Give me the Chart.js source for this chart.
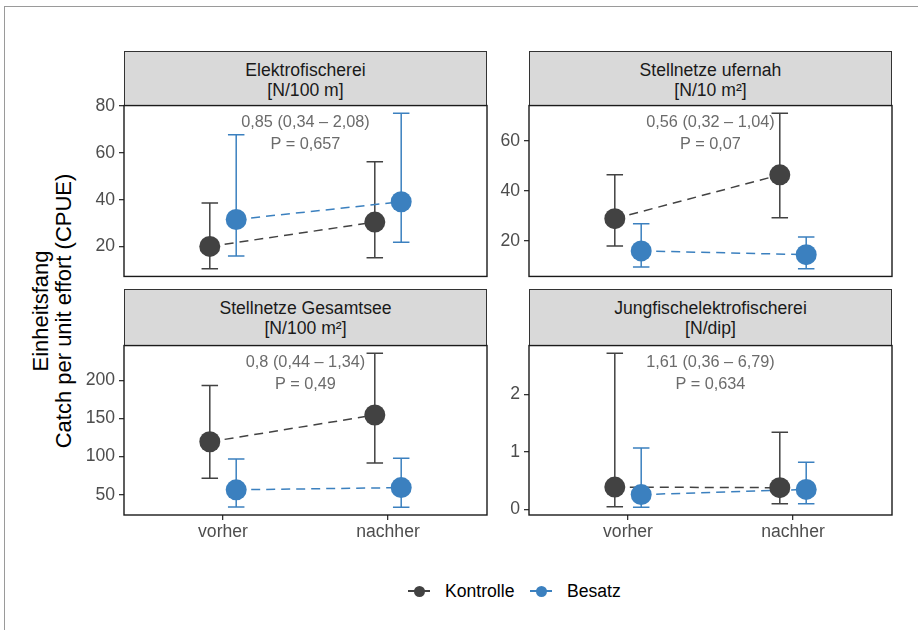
<!DOCTYPE html>
<html>
<head>
<meta charset="utf-8">
<script src="https://cdn.jsdelivr.net/npm/chart.js@4/dist/chart.umd.min.js"></script>
<style>
  body { margin: 0; background: #fff; font-family: "Liberation Sans", Arial, sans-serif; }
  #page { position: relative; width: 918px; height: 630px; overflow: hidden; background: #fff; }
  #frame { position: absolute; left: 4px; top: 6px; width: 940px; height: 660px;
           border-top: 1.5px solid #9a9a9a; border-left: 1.5px solid #9a9a9a; }
  .strip { position: absolute; box-sizing: border-box; background: #d9d9d9; border: 1px solid #333;
           text-align: center; font-size: 17.6px; line-height: 20px; color: #1a1a1a; padding-top: 8px; }
  .note { position: absolute; text-align: center; font-size: 16.3px; line-height: 21.5px; color: #6b6b6b; }
  canvas { position: absolute; }
  #ytitle { position: absolute; width: 420px; left: -158.5px; top: 288px; text-align: center;
            font-size: 22px; line-height: 23px; color: #000; transform: rotate(-90deg); }
  #legend { position: absolute; top: 580px; left: 0; width: 918px; height: 22px; }
  .key { position: absolute; top: 0; height: 22px; }
  .key .ln { position: absolute; left: 0; top: 10px; width: 22px; height: 1.6px; }
  .key .dot { position: absolute; left: 5.5px; top: 5.5px; width: 11px; height: 11px; border-radius: 50%; }
  .key .lab { position: absolute; left: 37px; top: 0; font-size: 17.6px; line-height: 22px; color: #000; white-space: nowrap; }
</style>
</head>
<body>
<div id="page">
  <div id="frame"></div>
  <div id="ytitle">Einheitsfang<br>Catch per unit effort (CPUE)</div>
  <div id="legend"></div>
</div>
<script>
const groups = ["Kontrolle", "Besatz"];
const periods = ["vorher", "nachher"];
const colors = ["#424242", "#3b80bf"];

const panelNames = ["Elektrofischerei", "Stellnetze ufernah", "Stellnetze Gesamtsee", "Jungfischelektrofischerei"];
const panelUnits = ["[N/100 m]", "[N/10 m²]", "[N/100 m²]", "[N/dip]"];
const effectText = ["0,85 (0,34 – 2,08)", "0,56 (0,32 – 1,04)", "0,8 (0,44 – 1,34)", "1,61 (0,36 – 6,79)"];
const pText = ["P = 0,657", "P = 0,07", "P = 0,49", "P = 0,634"];

// per panel: [vorher, nachher]
const kontrolleMean = [[20.0, 30.4], [28.9, 46.4], [119.4, 154.4], [0.39, 0.38]];
const kontrolleLow  = [[10.5, 15.2], [18.0, 29.3], [71.6, 91.5], [0.05, 0.10]];
const kontrolleHigh = [[38.6, 56.2], [46.4, 71.0], [193.0, 235.3], [2.71, 1.34]];
const besatzMean = [[31.5, 39.1], [16.0, 14.5], [56.5, 59.4], [0.26, 0.35]];
const besatzLow  = [[15.9, 21.8], [9.6, 8.9], [34.1, 33.6], [0.04, 0.10]];
const besatzHigh = [[67.7, 76.9], [26.9, 21.6], [97.0, 97.8], [1.07, 0.82]];

const yTicks = [[20, 40, 60, 80], [20, 40, 60], [50, 100, 150, 200], [0, 1, 2]];

const dodge = 0.08;
const capWidth = 0.1;

// panel boxes in page pixels
const panels = [
  { left: 124, top: 105, w: 363, h: 172, stripTop: 51, bottom: false },
  { left: 529, top: 105, w: 363, h: 172, stripTop: 51, bottom: false },
  { left: 124, top: 345, w: 363, h: 170, stripTop: 289, bottom: true },
  { left: 529, top: 345, w: 363, h: 170, stripTop: 289, bottom: true }
];

const FONT = '"Liberation Sans", Arial, sans-serif';
const YW = 45, PAD = 14, XH = 32;

const errorBars = {
  id: 'errorBars',
  beforeDatasetsDraw(chart) {
    const { ctx, scales: { x, y } } = chart;
    ctx.save();
    chart.data.datasets.forEach(ds => {
      if (!ds.errLow) return;
      ctx.strokeStyle = ds.errColor;
      ctx.lineWidth = 1.5;
      ds.data.forEach((pt, i) => {
        const px = x.getPixelForValue(pt.x);
        const x0 = x.getPixelForValue(pt.x - capWidth / 2);
        const x1 = x.getPixelForValue(pt.x + capWidth / 2);
        const lo = y.getPixelForValue(ds.errLow[i]);
        const hi = y.getPixelForValue(ds.errHigh[i]);
        ctx.beginPath();
        ctx.moveTo(px, lo); ctx.lineTo(px, hi);
        ctx.moveTo(x0, lo); ctx.lineTo(x1, lo);
        ctx.moveTo(x0, hi); ctx.lineTo(x1, hi);
        ctx.stroke();
      });
    });
    ctx.restore();
  }
};

const panelBorder = {
  id: 'panelBorder',
  afterDraw(chart) {
    const { ctx, chartArea: a } = chart;
    ctx.save();
    ctx.strokeStyle = '#1a1a1a';
    ctx.lineWidth = 1.4;
    ctx.strokeRect(a.left, a.top, a.right - a.left, a.bottom - a.top);
    ctx.restore();
  }
};

const page = document.getElementById('page');

panels.forEach((p, k) => {
  const strip = document.createElement('div');
  strip.className = 'strip';
  Object.assign(strip.style, { left: p.left + 'px', top: p.stripTop + 'px', width: p.w + 'px', height: (p.top - p.stripTop + 1) + 'px' });
  strip.innerHTML = panelNames[k] + '<br>' + panelUnits[k];
  page.appendChild(strip);

  const canvas = document.createElement('canvas');
  const cw = YW + p.w + PAD, ch = PAD + p.h + (p.bottom ? XH : PAD);
  canvas.width = cw; canvas.height = ch;
  Object.assign(canvas.style, { left: (p.left - YW) + 'px', top: (p.top - PAD) + 'px', width: cw + 'px', height: ch + 'px' });
  page.appendChild(canvas);

  const means = [kontrolleMean[k], besatzMean[k]];
  const lows = [kontrolleLow[k], besatzLow[k]];
  const highs = [kontrolleHigh[k], besatzHigh[k]];
  const lo = Math.min(...lows[0], ...lows[1]);
  const hi = Math.max(...highs[0], ...highs[1]);
  const span = hi - lo;

  const datasets = [];
  groups.forEach((g, gi) => {
    const pts = periods.map((per, i) => ({ x: i + 1 + (gi === 0 ? -dodge : dodge), y: means[gi][i] }));
    datasets.push({
      label: g + ' line', data: pts, showLine: true, order: 2,
      borderColor: colors[gi], borderWidth: 1.5, borderDash: [9, 6],
      pointRadius: 0, clip: false
    });
    datasets.push({
      label: g, data: pts, showLine: false, order: 1,
      backgroundColor: colors[gi], borderWidth: 0, pointRadius: 10.5,
      errLow: lows[gi], errHigh: highs[gi], errColor: colors[gi], clip: false
    });
  });

  new Chart(canvas, {
    type: 'scatter',
    data: { datasets: datasets },
    options: {
      responsive: false,
      animation: false,
      events: [],
      layout: { padding: { top: PAD, right: PAD, bottom: p.bottom ? 0 : PAD, left: 0 } },
      plugins: { legend: { display: false }, tooltip: { enabled: false } },
      scales: {
        x: {
          type: 'linear', min: 0.4, max: 2.6,
          display: p.bottom,
          afterBuildTicks: s => { s.ticks = periods.map((per, i) => ({ value: i + 1 })); },
          afterFit: s => { s.height = p.bottom ? XH : 0; },
          ticks: { callback: v => periods[v - 1], color: '#4d4d4d', font: { family: FONT, size: 17.6 }, padding: 2, maxRotation: 0 },
          grid: { display: true, drawOnChartArea: false, drawTicks: true, tickLength: 5, color: '#333', lineWidth: 1.3 },
          border: { display: false }
        },
        y: {
          min: lo - span * 0.05, max: hi + span * 0.05,
          afterBuildTicks: s => { s.ticks = yTicks[k].map(v => ({ value: v })); },
          afterFit: s => { s.width = YW; },
          ticks: { color: '#4d4d4d', font: { family: FONT, size: 17.6 }, padding: 4 },
          grid: { display: true, drawOnChartArea: false, drawTicks: true, tickLength: 5, color: '#333', lineWidth: 1.3 },
          border: { display: false }
        }
      }
    },
    plugins: [errorBars, panelBorder]
  });

  const note = document.createElement('div');
  note.className = 'note';
  Object.assign(note.style, { left: p.left + 'px', top: (p.top + 6) + 'px', width: p.w + 'px' });
  note.innerHTML = effectText[k] + '<br>' + pText[k];
  page.appendChild(note);
});

// legend
const legend = document.getElementById('legend');
const keyLeft = [408, 530];
groups.forEach((g, gi) => {
  const key = document.createElement('div');
  key.className = 'key';
  key.style.left = keyLeft[gi] + 'px';
  key.innerHTML = '<div class="ln" style="background:' + colors[gi] + '"></div>' +
    '<div class="dot" style="background:' + colors[gi] + '"></div>' +
    '<div class="lab">' + g + '</div>';
  legend.appendChild(key);
});
</script>
</body>
</html>
